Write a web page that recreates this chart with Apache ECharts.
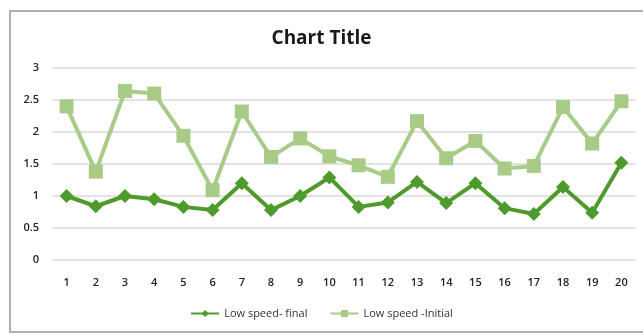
<!DOCTYPE html>
<html>
<head>
<meta charset="utf-8">
<script src="https://cdn.jsdelivr.net/npm/echarts@6/dist/echarts.min.js"></script>
<style>
  html, body { margin: 0; padding: 0; background: #fff; }
  #frame { position: absolute; left: 9px; top: 10px; width: 640px; height: 323px;
           border: 2px solid #b0b0b0; box-sizing: border-box; }
  #chart { position: absolute; left: 0; top: 0; width: 643px; height: 336px; }
</style>
</head>
<body>
<div id="frame"></div>
<div id="chart"></div>
<script>
const categories = ['1','2','3','4','5','6','7','8','9','10','11','12','13','14','15','16','17','18','19','20'];
const lowSpeedFinal = [1.0, 0.84, 1.0, 0.95, 0.83, 0.78, 1.2, 0.78, 1.0, 1.29, 0.83, 0.9, 1.22, 0.89, 1.2, 0.81, 0.72, 1.14, 0.74, 1.52];
const lowSpeedInitial = [2.4, 1.38, 2.64, 2.6, 1.94, 1.09, 2.32, 1.61, 1.9, 1.62, 1.48, 1.3, 2.17, 1.59, 1.86, 1.43, 1.47, 2.39, 1.82, 2.48];
const yTicks = [0, 0.5, 1, 1.5, 2, 2.5, 3];

const font = '"Open Sans", "Liberation Sans", sans-serif';
const darkGreen = '#4f9a2c';
const lightGreen = '#a8cb88';

const chart = echarts.init(document.getElementById('chart'), null, { renderer: 'canvas' });
chart.setOption({
  animation: false,
  title: {
    text: 'Chart Title',
    left: 'center',
    top: 24,
    textStyle: { fontFamily: font, fontSize: 19, fontWeight: 'bold', color: '#1a1a1a' }
  },
  grid: { left: 52, right: 7, top: 68, bottom: 76 },
  xAxis: {
    type: 'category',
    data: categories,
    boundaryGap: true,
    axisLine: { show: false },
    axisTick: { show: false },
    axisLabel: { fontFamily: font, fontSize: 11, fontWeight: 600, color: '#222', margin: 17 }
  },
  yAxis: {
    type: 'value',
    min: yTicks[0],
    max: yTicks[yTicks.length - 1],
    interval: 0.5,
    axisLine: { show: false },
    axisTick: { show: false },
    axisLabel: { fontFamily: font, fontSize: 11, fontWeight: 600, color: '#222', margin: 13 },
    splitLine: { lineStyle: { color: '#d9d9d9', width: 1.5 } }
  },
  legend: {
    bottom: 12,
    left: 'center',
    itemGap: 22,
    itemWidth: 28,
    itemHeight: 9,
    textStyle: { fontFamily: font, fontSize: 11, color: '#333' },
    data: ['Low speed- final', 'Low speed -Initial']
  },
  series: [
    {
      name: 'Low speed- final',
      type: 'line',
      data: lowSpeedFinal,
      symbol: 'diamond',
      symbolSize: 14,
      lineStyle: { color: darkGreen, width: 4 },
      itemStyle: { color: darkGreen }
    },
    {
      name: 'Low speed -Initial',
      type: 'line',
      data: lowSpeedInitial,
      symbol: 'rect',
      symbolSize: 14,
      lineStyle: { color: lightGreen, width: 4 },
      itemStyle: { color: lightGreen }
    }
  ]
});
</script>
</body>
</html>
